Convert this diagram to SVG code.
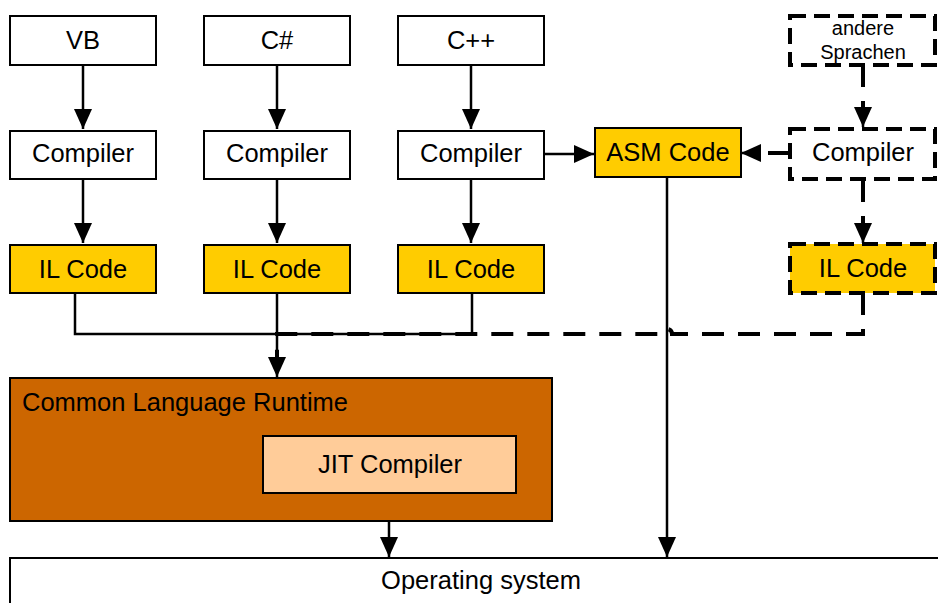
<svg xmlns="http://www.w3.org/2000/svg" width="938" height="603" viewBox="0 0 938 603">
<style>
.box{fill:#ffffff;stroke:#000;stroke-width:2}
.il{fill:#FFCC00;stroke:#000;stroke-width:2}
.dbox{fill:#ffffff;stroke:#000;stroke-width:4;stroke-dasharray:16 8}
.dil{fill:#FFCC00;stroke:#000;stroke-width:4;stroke-dasharray:16 8}
.clr{fill:#CC6600;stroke:#000;stroke-width:2}
.jit{fill:#FFCC99;stroke:#000;stroke-width:2}
.t{font-family:"Liberation Sans",Arial,sans-serif;font-size:25.5px;fill:#000;text-anchor:middle}
.ts{font-family:"Liberation Sans",Arial,sans-serif;font-size:20px;fill:#000;text-anchor:middle}
.c{fill:none;stroke:#000;stroke-width:2.5}
.d{fill:none;stroke:#000;stroke-width:4;stroke-dasharray:22 14}
</style>
<defs>
<marker id="ah" markerUnits="userSpaceOnUse" markerWidth="20" markerHeight="18" refX="20" refY="9" orient="auto">
<path d="M0,0 L20,9 L0,18 Z" fill="#000"/>
</marker>
</defs>

<g id="connectors">
<path class="c" d="M83,65 V129" marker-end="url(#ah)"/>
<path class="c" d="M277,65 V129" marker-end="url(#ah)"/>
<path class="c" d="M471,65 V129" marker-end="url(#ah)"/>
<path class="c" d="M83,179 V243" marker-end="url(#ah)"/>
<path class="c" d="M277,179 V243" marker-end="url(#ah)"/>
<path class="c" d="M471,179 V243" marker-end="url(#ah)"/>
<path class="c" d="M75,293 V334 H472 V293"/>
<path class="c" d="M277,293 V377" marker-end="url(#ah)"/>
<path class="c" d="M543,154 H594" marker-end="url(#ah)"/>
<path class="c" d="M667,177 V557" marker-end="url(#ah)"/>
<path class="c" d="M389,493 V557" marker-end="url(#ah)"/>
<path class="d" d="M863,65 V110"/>
<path class="c" d="M863,108 V127" marker-end="url(#ah)"/>
<path class="d" d="M863,180 V226"/>
<path class="c" d="M863,224 V243" marker-end="url(#ah)"/>
<path class="d" d="M790,153 H758"/>
<path class="c" d="M760,153 H741" marker-end="url(#ah)"/>
<path class="d" d="M863,293 V334 H672 A5,5 0 0 0 662,334 H277 V358"/>
</g>

<g id="vb"><rect class="box" x="10" y="16" width="146" height="49"/><text class="t" x="83" y="49">VB</text></g>
<g id="csharp"><rect class="box" x="204" y="16" width="146" height="49"/><text class="t" x="277" y="49">C#</text></g>
<g id="cpp"><rect class="box" x="398" y="16" width="146" height="49"/><text class="t" x="471" y="49">C++</text></g>
<g id="andere"><rect class="dbox" x="790" y="16" width="145" height="49"/><text class="ts" x="863" y="35">andere</text><text class="ts" x="863" y="59">Sprachen</text></g>

<g id="compiler-vb"><rect class="box" x="10" y="131" width="146" height="48"/><text class="t" x="83" y="162">Compiler</text></g>
<g id="compiler-cs"><rect class="box" x="204" y="131" width="146" height="48"/><text class="t" x="277" y="162">Compiler</text></g>
<g id="compiler-cpp"><rect class="box" x="398" y="131" width="146" height="48"/><text class="t" x="471" y="162">Compiler</text></g>
<g id="asm"><rect class="il" x="595" y="128" width="146" height="49"/><text class="t" x="668" y="161">ASM Code</text></g>
<g id="compiler-other"><rect class="dbox" x="790" y="129" width="145" height="50"/><text class="t" x="863" y="161">Compiler</text></g>

<g id="il-vb"><rect class="il" x="10" y="245" width="146" height="48"/><text class="t" x="83" y="278">IL Code</text></g>
<g id="il-cs"><rect class="il" x="204" y="245" width="146" height="48"/><text class="t" x="277" y="278">IL Code</text></g>
<g id="il-cpp"><rect class="il" x="398" y="245" width="146" height="48"/><text class="t" x="471" y="278">IL Code</text></g>
<g id="il-other"><rect class="dil" x="790" y="244" width="145" height="49"/><text class="t" x="863" y="277">IL Code</text></g>

<g id="clr"><rect class="clr" x="10" y="378" width="542" height="143"/><text class="t" x="22" y="411" style="text-anchor:start">Common Language Runtime</text></g>
<g id="jit"><rect class="jit" x="263" y="436" width="253" height="57"/><text class="t" x="390" y="473">JIT Compiler</text></g>

<g id="os"><rect class="box" x="10" y="558" width="940" height="60"/><text class="t" x="481" y="589">Operating system</text></g>
</svg>
